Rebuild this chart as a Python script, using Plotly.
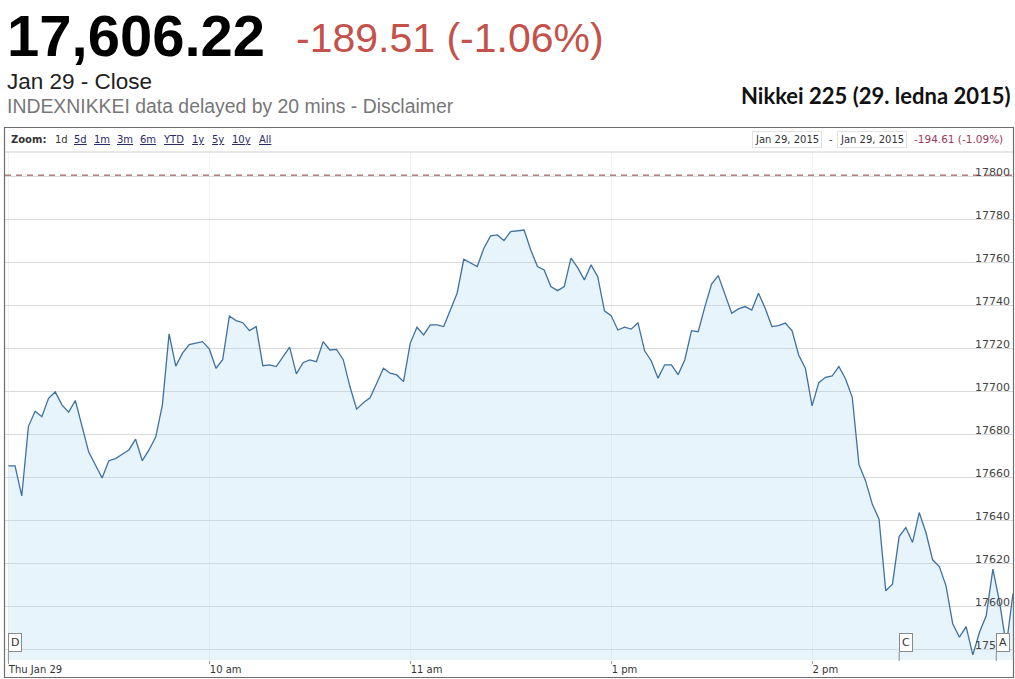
import plotly.graph_objects as go

# ---------------- data ----------------
last_price = "17,606.22"
change_text = "-189.51 (-1.06%)"
date_line = "Jan 29 - Close"
source_line = "INDEXNIKKEI data delayed by 20 mins - Disclaimer"
chart_title = "Nikkei 225 (29. ledna 2015)"
range_from = "Jan 29, 2015"
range_to = "Jan 29, 2015"
range_change = "-194.61 (-1.09%)"
prev_close = 17800.83

zoom_buttons = ["1d", "5d", "1m", "3m", "6m", "YTD", "1y", "5y", "10y", "All"]

# 2-minute quotes, morning session 09:00-11:30 and afternoon 12:32-15:00
morning_times = [f"{(540 + m) // 60:02d}:{(540 + m) % 60:02d}" for m in range(0, 151, 2)]
afternoon_times = [f"{(752 + m) // 60:02d}:{(752 + m) % 60:02d}" for m in range(0, 149, 2)]
times = morning_times + afternoon_times

values = [
    17665.6, 17665.6, 17651.6, 17684.0, 17691.0, 17688.5, 17697.0, 17700.0, 17694.0, 17690.6,
    17696.0, 17684.0, 17672.0, 17666.0, 17660.0, 17668.0, 17669.0, 17671.0, 17673.0, 17678.0,
    17668.0, 17673.0, 17679.0, 17694.0, 17727.0,
    17712.0, 17718.0, 17722.0, 17722.6, 17723.4, 17720.0, 17711.0, 17715.0, 17735.3, 17733.2,
    17732.2, 17728.5, 17730.4, 17712.2, 17712.6, 17711.8, 17716.4, 17720.8, 17708.4, 17713.6,
    17714.9, 17714.1, 17723.4, 17719.5, 17719.8, 17715.0,
    17702.5, 17692.0, 17695.0, 17697.3, 17704.0, 17711.0, 17708.7, 17707.9, 17704.8, 17722.6,
    17730.1, 17726.5, 17731.2, 17731.2, 17730.4, 17738.1, 17745.9, 17761.7, 17759.8, 17758.3,
    17766.8, 17772.6, 17773.0, 17770.4, 17774.6,
    17775.0, 17775.3, 17766.0, 17758.3, 17756.7, 17749.0, 17747.1, 17749.0, 17762.2, 17757.8,
    17752.1, 17759.1, 17753.6, 17737.7, 17735.5, 17728.8, 17730.1, 17729.2, 17732.2, 17719.1,
    17714.4, 17706.4, 17712.6, 17712.6, 17708.0,
    17715.0, 17728.5, 17728.0, 17739.7, 17750.2, 17754.1, 17745.1, 17736.6, 17738.6, 17739.7,
    17738.1, 17745.9, 17738.9, 17730.4, 17730.8, 17732.0, 17728.5, 17717.2, 17711.0, 17693.5,
    17704.3, 17706.8, 17707.4, 17711.8, 17706.0, 17697.5,
    17666.3, 17658.5, 17647.7, 17640.8, 17607.5, 17610.6, 17632.7, 17636.9, 17630.0, 17643.9,
    17634.6, 17621.9, 17618.8, 17609.8, 17592.1, 17585.9, 17590.8, 17577.7, 17588.2, 17595.9,
    17617.6, 17602.1, 17582.0, 17606.22,
]

tick_times = ["09:00", "10:00", "11:00", "13:00", "14:00"]
tick_text = ["Thu Jan 29", "10 am", "11 am", "1 pm", "2 pm"]
y_ticks = [17580, 17600, 17620, 17640, 17660, 17680, 17700, 17720, 17740, 17760, 17780, 17800]

flag_labels = ["D", "C", "A"]
flag_times = ["09:00", "14:26", "14:55"]


def trade_min(hhmm):
    h, m = map(int, hhmm.split(":"))
    mins = h * 60 + m - 540
    if mins > 150:          # skip lunch break 11:30-12:30
        mins -= 60
    return mins


xs = [trade_min(t) for t in times]

# ---------------- layout helpers ----------------
W, H = 1015, 679
ML, MR, MT, MB = 5, 2, 152, 19
PW, PH = W - ML - MR, H - MT - MB


def px(x):
    return (x - ML) / PW


def py(y):
    return (H - MB - y) / PH


fig = go.Figure()
fig.add_trace(go.Scatter(
    x=xs, y=values, mode="lines",
    line=dict(color="#3f71a0", width=1.3),
    fill="tozeroy", fillcolor="rgba(170,215,246,0.28)",
    hoverinfo="skip",
))

fig.add_hline(y=prev_close, line=dict(color="#8a3b3b", width=1, dash="6px,5px"))

shapes = []
# x-axis band
shapes.append(dict(type="rect", xref="paper", yref="paper", x0=px(5), x1=px(1013),
                   y0=py(677), y1=py(661.5), fillcolor="#c6dcf1", line=dict(width=0), layer="below"))
# separator under zoom bar
shapes.append(dict(type="line", xref="paper", yref="paper", x0=px(5), x1=px(1013),
                   y0=py(152), y1=py(152), line=dict(color="#cfcfcf", width=1)))
# outer frame
shapes.append(dict(type="rect", xref="paper", yref="paper", x0=px(4.5), x1=px(1013.5),
                   y0=py(677.5), y1=py(127.5), line=dict(color="#6e6e6e", width=1.2)))
# flag poles
for ft in flag_times:
    shapes.append(dict(type="line", xref="x", yref="paper", x0=trade_min(ft), x1=trade_min(ft),
                       y0=py(661), y1=py(652), line=dict(color="#888888", width=1)))

ann = []
HF = "Liberation Sans, Arial, sans-serif"
VF = "DejaVu Sans, Verdana, sans-serif"
ann.append(dict(text=f"<b>{last_price}</b>", x=px(5), y=py(36), font=dict(family=HF, size=58, color="#000000")))
ann.append(dict(text=change_text, x=px(294), y=py(38), font=dict(family=HF, size=41, color="#c4514a")))
ann.append(dict(text=date_line, x=px(5), y=py(81), font=dict(family=HF, size=22.5, color="#222222")))
ann.append(dict(text=source_line, x=px(5), y=py(106), font=dict(family=HF, size=19.4, color="#777777")))
ann.append(dict(text=f"<b>{chart_title}</b>", x=px(1012), y=py(96), xanchor="right",
                font=dict(family="Lato, Carlito, sans-serif", size=22, color="#111111")))

# zoom bar
ann.append(dict(text="<b>Zoom:</b>", x=px(9), y=py(139), font=dict(family=VF, size=10, color="#333333")))
zoom_x = [53, 72, 92, 115, 138, 161, 190, 210, 230, 257]
for lab, zx in zip(zoom_buttons, zoom_x):
    txt = lab if lab == "1d" else f"<u>{lab}</u>"
    col = "#333333" if lab == "1d" else "#2b2b6b"
    ann.append(dict(text=txt, x=px(zx), y=py(139), font=dict(family=VF, size=10, color=col)))

ann.append(dict(text=range_from, x=px(752), y=py(139), bordercolor="#e2e2e2", borderwidth=1, borderpad=2,
                bgcolor="white", font=dict(family=VF, size=10, color="#333333")))
ann.append(dict(text="-", x=px(827), y=py(139), font=dict(family=VF, size=10, color="#333333")))
ann.append(dict(text=range_to, x=px(837), y=py(139), bordercolor="#e2e2e2", borderwidth=1, borderpad=2,
                bgcolor="white", font=dict(family=VF, size=10, color="#333333")))
ann.append(dict(text=range_change, x=px(912), y=py(139), font=dict(family=VF, size=10.5, color="#9a3a56")))

for a in ann:
    a.setdefault("xref", "paper")
    a.setdefault("yref", "paper")
    a.setdefault("xanchor", "left")
    a.setdefault("yanchor", "middle")
    a["showarrow"] = False

for fl, ft in zip(flag_labels, flag_times):
    ann.append(dict(text=fl, xref="x", x=trade_min(ft), yref="paper", y=py(652),
                    xanchor="left", yanchor="bottom", showarrow=False,
                    bordercolor="#8a8a8a", borderwidth=1, borderpad=2, bgcolor="white",
                    font=dict(family=VF, size=11, color="#333333")))

fig.update_layout(
    width=W, height=H,
    margin=dict(l=ML, r=MR, t=MT, b=MB, autoexpand=False),
    paper_bgcolor="white", plot_bgcolor="white",
    showlegend=False, hovermode=False,
    shapes=shapes, annotations=ann,
    xaxis=dict(
        range=[-1, 300], tickmode="array",
        tickvals=[trade_min(t) for t in tick_times], ticktext=tick_text,
        showgrid=True, gridcolor="#f1f1f1", zeroline=False, showline=False,
        ticks="outside", ticklen=3, tickcolor="#9a9a9a",
        ticklabelposition="outside right",
        tickfont=dict(family=VF, size=10, color="#333333"),
        fixedrange=True,
    ),
    yaxis=dict(
        range=[17575.3, 17811.6], side="right", tickmode="array", tickvals=y_ticks,
        tickformat="d",
        showgrid=True, gridcolor="#d9d9d9", zeroline=False, showline=False, ticks="",
        ticklabelposition="inside", ticklabelshift=-5, ticklabeloverflow="allow",
        tickfont=dict(family=VF, size=11, color="#444444"),
        automargin=False, fixedrange=True,
    ),
)

fig.write_html(
    "out.html",
    config={"displayModeBar": False},
    post_script="document.body.style.margin='0';document.body.style.overflow='hidden';",
)
